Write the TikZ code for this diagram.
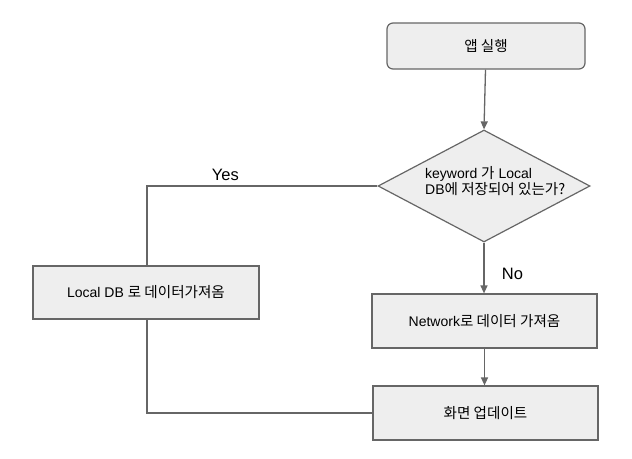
\documentclass[tikz,border=0pt]{standalone}
\usepackage{fontspec}
\setmainfont{Liberation Sans}
\newfontfamily\krfont{Noto Sans CJK KR}[Scale=1.04]
\newcommand{\kr}[1]{{\krfont #1}}
\usetikzlibrary{arrows.meta,shapes.geometric}
\definecolor{boxfill}{HTML}{EEEEEE}
\definecolor{boxline}{HTML}{666666}
\tikzset{
  txt/.style={font=\fontsize{14}{16.5}\selectfont},
  procbox/.style={draw=boxline,fill=boxfill,line width=1.2pt,inner sep=0pt,txt},
  conn/.style={draw=boxline,line width=1.3pt},
  arr/.style={conn,-{Triangle[width=7pt,length=8pt]}},
  lbl/.style={font=\fontsize{16.5}{19}\selectfont,text=black}
}
\begin{document}
\begin{tikzpicture}[x=1pt,y=-1pt]
\useasboundingbox (0,0) rectangle (632,458);
% nodes
\node[procbox,rounded corners=6pt,minimum width=198pt,minimum height=46pt] (start) at (486,46) {\kr{앱 실행}};
\node[procbox,diamond,aspect=1.9,minimum width=212pt,minimum height=112pt] (dec) at (484,186) {};
\node[anchor=west,align=left,txt,inner sep=0pt] (dectext) at (425,181) {keyword \kr{가} Local\\DB\kr{에 저장되어 있는가?}};
\node[procbox,minimum width=226pt,minimum height=53pt] (local) at (146,292.5) {Local DB \kr{로 데이터가져옴}};
\node[procbox,minimum width=225pt,minimum height=54pt] (net) at (484.5,321) {Network\kr{로 데이터 가져옴}};
\node[procbox,minimum width=225pt,minimum height=54pt] (upd) at (485.5,413) {\kr{화면 업데이트}};
% connectors
\draw[arr] (start.south -| 485.5,0) -- (dec.north);
\draw[conn] (dec.west) -| (local.north -| 147,0) node[pos=0.33,lbl,above=1pt] (yes) {Yes};
\draw[arr] (dec.south) -- (net.north -| dec.south) node[pos=0.62,lbl,right=14pt] (no) {No};
\draw[arr] (net.south) -- (upd.north -| net.south);
\draw[conn] (local.south -| 147,0) |- (upd.west);
\end{tikzpicture}
\end{document}
